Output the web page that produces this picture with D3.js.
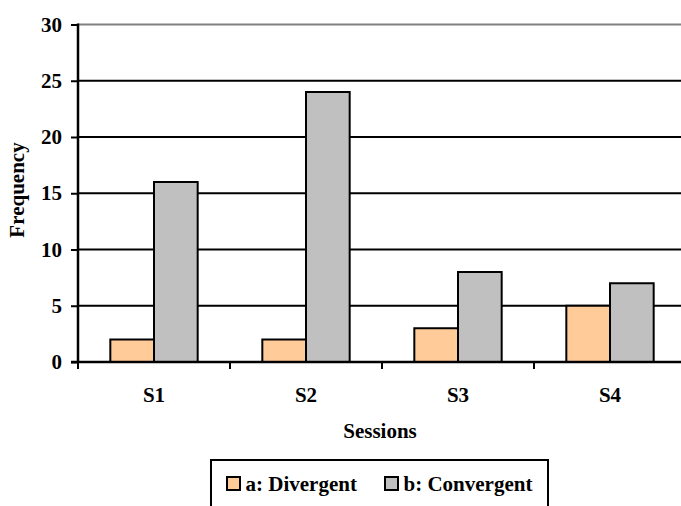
<!DOCTYPE html>
<html>
<head>
<meta charset="utf-8">
<script src="https://cdn.jsdelivr.net/npm/d3@7"></script>
<style>
  html, body { margin: 0; padding: 0; background: #fff; overflow: hidden; }
  svg { display: block; }
  svg text { font-family: "Liberation Serif", Tinos, "Times New Roman", Times, serif !important; font-weight: bold; fill: #000; }
</style>
</head>
<body>
<svg id="chart" width="681" height="506"></svg>
<script>
// Session categories and the two response series
const sessions = ["S1", "S2", "S3", "S4"];
const seriesNames = ["a: Divergent", "b: Convergent"];
const divergent = [2, 2, 3, 5];
const convergent = [16, 24, 8, 7];
const yTicks = [0, 5, 10, 15, 20, 25, 30];
const colors = ["#FFCC99", "#C0C0C0"];

const svg = d3.select("#chart");
const plotLeft = 78, plotRight = 686, plotTop = 24.5, plotBottom = 362;
const fontSize = 21;

const x = d3.scaleBand().domain(sessions).range([plotLeft, plotRight]).paddingInner(0).paddingOuter(0);
const xs = d3.scaleBand().domain(seriesNames).range([0, x.bandwidth()]).paddingInner(0).paddingOuter(0.74);
const y = d3.scaleLinear().domain([0, 30]).range([plotBottom, plotTop]);

// Horizontal gridlines
svg.append("g").selectAll("line").data(yTicks.filter(d => d > 0)).join("line")
  .attr("x1", plotLeft).attr("x2", plotRight)
  .attr("y1", d => y(d)).attr("y2", d => y(d))
  .attr("stroke", d => d === 30 ? "#808080" : "#000")
  .attr("stroke-width", 2);

// Bars
const rows = sessions.map((s, i) => ({ s, vals: [divergent[i], convergent[i]] }));
const groups = svg.append("g").selectAll("g").data(rows).join("g")
  .attr("transform", d => `translate(${x(d.s)},0)`);
groups.selectAll("rect").data(d => d.vals.map((v, j) => ({ v, j }))).join("rect")
  .attr("x", d => xs(seriesNames[d.j]))
  .attr("width", xs.bandwidth())
  .attr("y", d => y(d.v))
  .attr("height", d => y(0) - y(d.v))
  .attr("fill", d => colors[d.j])
  .attr("stroke", "#000")
  .attr("stroke-width", 2);

// Y axis
const yAxis = svg.append("g").attr("transform", `translate(${plotLeft},0)`)
  .call(d3.axisLeft(y).tickValues(yTicks).tickSize(7).tickPadding(9));
yAxis.select(".domain").remove();
yAxis.selectAll(".tick line").attr("stroke", "#000").attr("stroke-width", 2);
yAxis.selectAll(".tick text").attr("font-size", fontSize);
svg.append("line").attr("x1", plotLeft).attr("x2", plotLeft).attr("y1", plotTop - 1).attr("y2", plotBottom + 1)
  .attr("stroke", "#000").attr("stroke-width", 2.5);

// X axis baseline with boundary ticks
svg.append("line").attr("x1", plotLeft - 7).attr("x2", plotRight).attr("y1", plotBottom).attr("y2", plotBottom)
  .attr("stroke", "#000").attr("stroke-width", 2.5);
svg.append("g").selectAll("line").data(sessions).join("line")
  .attr("x1", d => x(d)).attr("x2", d => x(d))
  .attr("y1", plotBottom).attr("y2", plotBottom + 7)
  .attr("stroke", "#000").attr("stroke-width", 2);
svg.append("g").selectAll("text").data(sessions).join("text")
  .attr("x", d => x(d) + x.bandwidth() / 2)
  .attr("y", 402)
  .attr("text-anchor", "middle")
  .attr("font-size", fontSize)
  .text(d => d);

// Axis titles
svg.append("text").attr("x", 380).attr("y", 438).attr("text-anchor", "middle")
  .attr("font-size", fontSize).text("Sessions");
svg.append("text").attr("transform", "translate(24,190) rotate(-90)").attr("text-anchor", "middle")
  .attr("font-size", fontSize).text("Frequency");

// Legend
const lg = svg.append("g");
lg.append("rect").attr("x", 211).attr("y", 460).attr("width", 337).attr("height", 60)
  .attr("fill", "#fff").attr("stroke", "#000").attr("stroke-width", 2);
const legendX = [227, 385];
seriesNames.forEach((name, i) => {
  lg.append("rect").attr("x", legendX[i]).attr("y", 477).attr("width", 13).attr("height", 13)
    .attr("fill", colors[i]).attr("stroke", "#000").attr("stroke-width", 2);
  lg.append("text").attr("x", legendX[i] + 18.5).attr("y", 491).attr("font-size", fontSize).text(name);
});
</script>
</body>
</html>
